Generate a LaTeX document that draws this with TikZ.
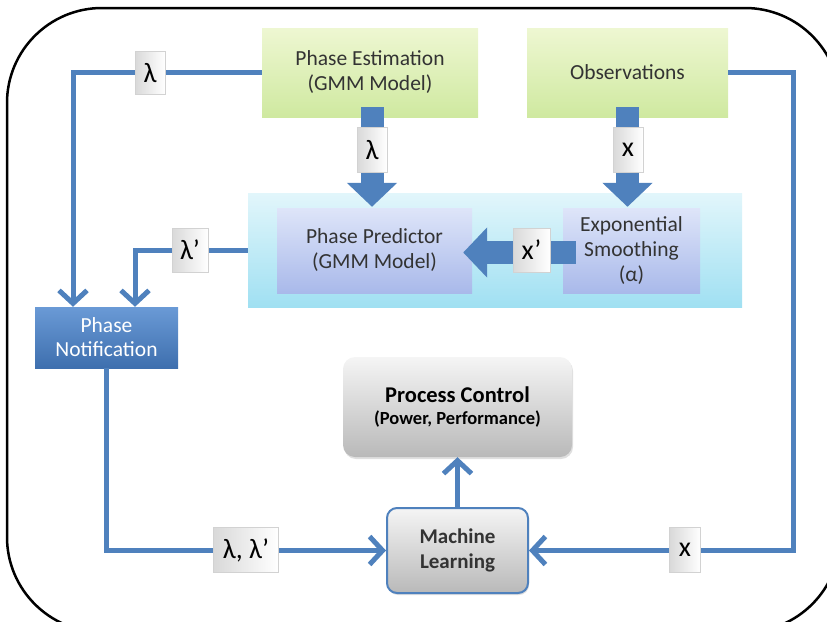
\documentclass[tikz,border=0pt]{standalone}
\usepackage{fontspec}
\setmainfont{Carlito}
\usetikzlibrary{arrows.meta,calc,shadows}
\definecolor{lb}{HTML}{4F81BD}
\definecolor{gtop}{HTML}{EEF7D2}
\definecolor{gbot}{HTML}{CFE9A0}
\definecolor{ctop}{HTML}{E2F6FB}
\definecolor{cbot}{HTML}{A0E0F2}
\definecolor{ptop}{HTML}{DEE5F9}
\definecolor{pbot}{HTML}{A9B9EA}
\definecolor{ntop}{HTML}{6A9AD6}
\definecolor{nbot}{HTML}{3E6FAE}
\definecolor{txt}{HTML}{333333}
\begin{document}
\begin{tikzpicture}[x=1pt,y=-1pt,
  box/.style={draw=none, inner sep=0pt, align=center, text=txt,
    font=\fontsize{21.5}{25}\selectfont},
  greenbox/.style={box, top color=gtop, bottom color=gbot},
  purplebox/.style={box, top color=ptop, bottom color=pbot},
  graybox/.style={box, rounded corners=12pt, top color=gray!8, bottom color=gray!55,
    drop shadow={opacity=0.25, shadow xshift=1pt, shadow yshift=-2pt}},
  lab/.style={draw=gray!35, line width=0.4pt, inner sep=0pt, left color=gray!30, right color=white,
    text=black, font=\fontsize{28}{30}\selectfont},
  conn/.style={draw=lb, line width=5pt, -{Straight Barb[length=13pt 0 0, width=28pt 0 0]}},
  block/.style={draw=lb, line width=23pt, -{Triangle[length=24pt 0 0, width=49pt 0 0]}}
]
\useasboundingbox (0,0) rectangle (827,621);
\begin{scope}
\clip (0,0) rectangle (827,621);
\draw[line width=2.5pt, rounded corners=95pt] (7,8) rectangle (840,632);
\end{scope}

% container and boxes
\node[box, minimum width=494pt, minimum height=114pt, top color=ctop, bottom color=cbot] (cont) at (495,250) {};
\node[greenbox, minimum width=216pt, minimum height=89pt] (pe) at (370,72.5) {Phase Estimation\\(GMM Model)};
\node[greenbox, minimum width=201pt, minimum height=89pt] (obs) at (627.5,72.5) {Observations};
\node[purplebox, minimum width=195pt, minimum height=85pt] (pp) at (374.5,250.5) {Phase Predictor\\(GMM Model)};
\node[purplebox, minimum width=137pt, minimum height=85pt] (es) at (631.5,250.5) {Exponential\\Smoothing\\(α)};
\node[box, minimum width=143pt, minimum height=61pt, top color=ntop, bottom color=nbot, text=white,
  font=\fontsize{21.5}{24}\selectfont] (pn) at (106.5,337.5) {Phase\\Notification};
\node[graybox, minimum width=229pt, minimum height=100pt, text=black] (pc) at (457.5,407)
  {\fontsize{22.5}{25}\selectfont\bfseries Process Control\\[-3pt]\fontsize{18.5}{20}\selectfont\bfseries (Power, Performance)};
\node[graybox, draw=lb, line width=2pt, rounded corners=10pt, minimum width=141pt, minimum height=85pt,
  font=\fontsize{21}{25}\selectfont\bfseries] (ml) at (457.5,550.5) {Machine\\Learning};

% connectors
\coordinate (c4) at (793,72.5);
\draw[conn] (pe.west) -| ($(pn.north)+(-33.5,0)$);
\draw[conn] (cont.west) -| ($(pn.north)+(28.5,0)$);
\draw[conn] (pn.south) |- (ml.west);
\draw[conn] (obs.east) -- (c4) |- (ml.east);
\draw[conn] (ml.north) -- (pc.south);

% block arrows
\draw[block] ($(pe.south)+(2,-10)$) -- ($(pe.south |- pp.north)+(2,-1)$);
\draw[block] ($(obs.south)+(0,-10)$) -- ($(obs.south |- es.north)+(0,-1)$);
\draw[block] ($(es.west)+(13,2)$) -- ($(pp.east)+(-9,2)$);

% labels
\node[lab, minimum width=30pt, minimum height=43pt] (l1) at (150,73) {λ};
\node[lab, minimum width=36pt, minimum height=44pt] (l2) at (190,250) {λ’};
\node[lab, minimum width=65pt, minimum height=45pt] (l3) at (246,550) {λ, λ’};
\node[lab, minimum width=31pt, minimum height=45pt] (l4) at (685,550) {x};
\node[lab, minimum width=30pt, minimum height=45pt] (l5) at (372,150) {λ};
\node[lab, minimum width=30pt, minimum height=45pt] (l6) at (628,150) {x};
\node[lab, minimum width=37pt, minimum height=44pt] (l7) at (531.5,250) {x’};
\end{tikzpicture}
\end{document}
